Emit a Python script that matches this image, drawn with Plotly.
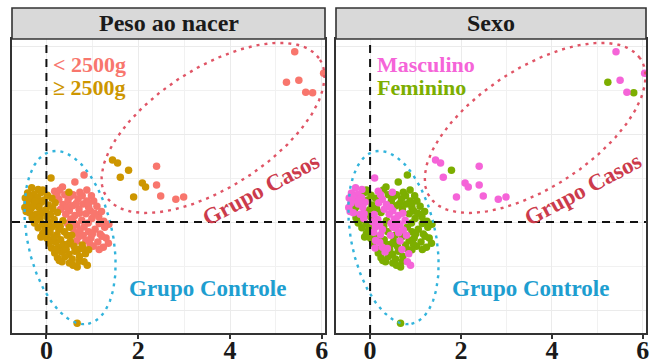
import numpy as np
import plotly.graph_objects as go

# ---------------- data ----------------
# < 2500g, Masculino
lbw_m_x = [0.18, 0.27, 0.36, 0.31, 0.50, 0.42, 0.62, 0.53, 0.77, 0.46, 0.66, 0.57, 0.63, 0.66,
           0.23, 0.45, 0.72, 0.60, 0.73, 0.80,
           2.40, 2.40, 2.49, 2.82, 2.99, 5.41, 5.50, 5.65, 6.04]
lbw_m_y = [0.70, 0.52, 0.40, 0.29, 0.26, 0.18, 0.15, 0.07, 0.04, -0.03, -0.06, -0.14, -0.24, -0.43,
           0.62, 0.33, 0.20, -0.01, -0.18, -0.30,
           1.27, 0.84, 0.59, 0.52, 0.57, 3.87, 3.22, 2.95, 3.38]
# < 2500g, Feminino
lbw_f_x = [0.35, 0.29, 0.40, 0.58, 0.98, 0.47, 0.69, 1.03, 0.57, 0.80, 1.10, 0.71, 0.96, 0.86, 1.14,
           0.99, 1.25, 0.91, 1.36, 0.82, 1.06, 1.27, 0.92, 1.17, 0.71, 0.97, 1.21, 0.86, 1.12, 1.35,
           1.02, 1.24, 0.52, 0.78, 0.88, 0.65, 0.92, 1.20, 1.05, 1.15, 1.00, 1.30, 0.95, 1.15,
           0.62, 0.82, 0.73, 0.88, 0.92, 5.23, 5.80]
lbw_f_y = [0.80, 0.73, 0.62, 0.62, 0.60, 0.49, 0.53, 0.48, 0.37, 0.41, 0.36, 0.30, 0.25, 0.19, 0.12,
           0.08, 0.02, -0.02, -0.05, -0.11, -0.16, -0.12, -0.22, -0.27, -0.33, -0.36, -0.32, -0.41, -0.45, -0.48,
           -0.55, -0.57, 0.58, 0.60, 0.48, 0.42, 0.33, 0.24, 0.20, -0.03, -0.27, -0.36, -0.50, -0.62,
           0.91, 1.07, 0.68, 0.73, 0.43, 3.18, 2.94]
# >= 2500g, Masculino
nbw_m_x = [-0.32, -0.18, -0.41, -0.27, -0.46, -0.33, -0.19, -0.42, -0.26, -0.11, 0.19, -0.47, -0.16,
           -0.37, -0.22, 0.09, -0.14, 0.17, 0.06, 0.21, 0.12, 0.27, 0.08, 0.23, 0.21, 0.11, 0.27, 0.33,
           0.89, 0.45, 0.50, -0.38, -0.24, -0.44, -0.13, 0.12, 0.38, 0.70, 0.85, 0.82,
           0.10, 0.49, 1.44, 1.55, 1.61, 2.09, 2.16, 1.90]
nbw_m_y = [0.78, 0.74, 0.66, 0.63, 0.55, 0.52, 0.56, 0.43, 0.41, 0.45, 0.44, 0.33, 0.33,
           0.21, 0.18, 0.17, 0.08, 0.06, 0.01, -0.06, -0.11, -0.17, -0.23, -0.29, -0.46, -0.59, -0.57, -0.68,
           -0.98, -0.30, -0.12, 0.58, 0.48, 0.24, 0.19, -0.42, -0.60, -0.62, -0.72, -0.90,
           1.00, 0.68, 1.41, 1.34, 1.02, 0.89, 0.80, 0.57]
# >= 2500g, Feminino
nbw_f_x = [-0.12, 0.02, -0.05, 0.12, 0.04, -0.34, -0.01, 0.14, -0.07, 0.24, -0.31, 0.01, -0.26, -0.09,
           0.36, -0.18, -0.03, -0.08, 0.39, 0.01, 0.16, 0.31, 0.06, 0.37, 0.52, 0.43, 0.18, 0.49, 0.62,
           0.24, 0.40, 0.56, 0.34, 0.50, 0.71, 0.67, 0.60, 0.72, 0.80, 0.78, 0.92,
           -0.29, -0.20, 0.03, -0.12, 0.30, 0.20, 0.28, 0.58, 0.47, 0.55,
           0.67, -0.08, 1.79]
nbw_f_y = [0.67, 0.61, 0.50, 0.54, 0.39, 0.30, 0.28, 0.31, 0.23, 0.22, 0.10, 0.12, -0.02, -0.04,
           0.03, -0.13, -0.16, -0.26, -0.22, -0.37, -0.34, -0.40, -0.48, -0.51, -0.44, -0.62, -0.70, -0.73, -0.66,
           -0.81, -0.79, -0.84, -0.90, -0.93, -0.89, -1.02, -0.55, -0.78, -0.60, -0.52, -0.63,
           0.36, 0.05, -0.06, -0.34, -0.10, -0.62, -0.87, -0.98, -0.50, -0.30,
           -2.30, 0.73, 1.18]

# confidence ellipses: centre x, centre y, semi-major, semi-minor, angle (deg)
casos_ellipse = [3.63, 2.14, 2.80, 1.34, 34.5]
controle_ellipse = [0.515, -0.35, 2.00, 0.93, -78.6]

x_ticks = [0, 2, 4, 6]
panel_titles = ["Peso ao nacer", "Sexo"]

# ---------------- styling ----------------
W, H = 651, 364
SALMON, GOLD = "#F8766D", "#CD9600"
PINK, GREEN = "#F564D8", "#7CAE00"
RED_E, RED_T = "#E05566", "#CC3B4C"
BLUE_E, BLUE_T = "#33B4DC", "#1E9ED0"
SERIF = "Liberation Serif"


def ellipse(p, n=240):
    cx, cy, a, b, ang = p
    t = np.linspace(0, 2 * np.pi, n)
    r = np.radians(ang)
    ex = cx + a * np.cos(t) * np.cos(r) - b * np.sin(t) * np.sin(r)
    ey = cy + a * np.cos(t) * np.sin(r) + b * np.sin(t) * np.cos(r)
    return ex, ey


fig = go.Figure()

panels = [
    ("x", "y", [(lbw_m_x + lbw_f_x, lbw_m_y + lbw_f_y, SALMON),
                (nbw_m_x + nbw_f_x, nbw_m_y + nbw_f_y, GOLD)]),
    ("x2", "y2", [(lbw_f_x + nbw_f_x, lbw_f_y + nbw_f_y, GREEN),
                  (lbw_m_x + nbw_m_x, lbw_m_y + nbw_m_y, PINK)]),
]

for xa, ya, groups in panels:
    for gx, gy, col in groups:
        fig.add_trace(go.Scatter(x=gx, y=gy, mode="markers", xaxis=xa, yaxis=ya,
                                 marker=dict(size=7.5, color=col, line=dict(width=0)),
                                 showlegend=False, hoverinfo="skip"))
    for p, col in [(casos_ellipse, RED_E), (controle_ellipse, BLUE_E)]:
        ex, ey = ellipse(p)
        fig.add_trace(go.Scatter(x=ex, y=ey, mode="lines", xaxis=xa, yaxis=ya,
                                 line=dict(color=col, width=2.4, dash="3px,5px"),
                                 showlegend=False, hoverinfo="skip"))

# geometry (pixels -> paper)
px_l = [(12, 325), (336, 646)]
top_px, bot_px = 39, 333
strip_top = 8
ydom = [(H - bot_px) / H, (H - top_px) / H]
XR = [-0.75, 6.07]
YR = [-2.52, 4.16]

axis_common = dict(range=XR, showgrid=True, gridcolor="#EBEBEB", gridwidth=1,
                   tickvals=x_ticks, ticktext=[str(v) for v in x_ticks],
                   ticks="outside", ticklen=4, tickwidth=1.5, tickcolor="#333333",
                   ticklabelstandoff=-11,
                   tickfont=dict(family=SERIF, size=26, color="#1a1a1a", weight="bold"),
                   showline=True, linecolor="#333333", linewidth=1.6, mirror=True,
                   zeroline=False, automargin=False,
                   minor=dict(dtick=1, tick0=0, showgrid=True, gridcolor="#F1F1F1", gridwidth=0.8, ticks=""))
yaxis_common = dict(range=YR, domain=ydom, showgrid=True, gridcolor="#EBEBEB", gridwidth=1,
                    tickvals=[-2, 0, 2, 4], showticklabels=False, ticks="",
                    showline=True, linecolor="#333333", linewidth=1.6, mirror=True,
                    zeroline=False, automargin=False,
                    minor=dict(dtick=1, tick0=0, showgrid=True, gridcolor="#F1F1F1", gridwidth=0.8, ticks=""))

fig.update_layout(
    width=W, height=H, margin=dict(l=0, r=0, t=0, b=0),
    paper_bgcolor="white", plot_bgcolor="white",
    xaxis=dict(domain=[px_l[0][0] / W, px_l[0][1] / W], anchor="y", **axis_common),
    xaxis2=dict(domain=[px_l[1][0] / W, px_l[1][1] / W], anchor="y2", **axis_common),
    yaxis=dict(anchor="x", **yaxis_common),
    yaxis2=dict(anchor="x2", **yaxis_common),
)

shapes = []
annotations = []
for i, (xa, ya) in enumerate([("x", "y"), ("x2", "y2")]):
    x0, x1 = px_l[i]
    # strip
    shapes.append(dict(type="rect", xref="paper", yref="paper",
                       x0=x0 / W, x1=x1 / W, y0=(H - top_px) / H, y1=(H - strip_top) / H,
                       fillcolor="#D9D9D9", line=dict(color="#333333", width=1.6), layer="above"))
    annotations.append(dict(xref="paper", yref="paper", x=(x0 + x1) / 2 / W,
                            y=(H - (strip_top + top_px) / 2) / H, text="<b>%s</b>" % panel_titles[i],
                            showarrow=False, xanchor="center", yanchor="middle",
                            font=dict(family=SERIF, size=24, color="#1a1a1a")))
    # reference dashed lines
    shapes.append(dict(type="line", xref=xa, yref=ya + " domain", x0=0, x1=0, y0=0, y1=1,
                       line=dict(color="#111111", width=2, dash="8px,6px"), layer="above"))
    shapes.append(dict(type="line", xref=xa + " domain", yref=ya, x0=0, x1=1, y0=0, y1=0,
                       line=dict(color="#111111", width=2, dash="8px,6px"), layer="above"))
    # group labels
    annotations.append(dict(xref=xa, yref=ya, x=4.68, y=0.73, text="<b>Grupo Casos</b>", textangle=-28,
                            showarrow=False, font=dict(family=SERIF, size=23, color=RED_T)))
    annotations.append(dict(xref=xa, yref=ya, x=3.52, y=-1.52, text="<b>Grupo Controle</b>",
                            showarrow=False, font=dict(family=SERIF, size=23, color=BLUE_T)))

legend_text = [("< 2500g", "≥ 2500g", SALMON, GOLD), ("Masculino", "Feminino", PINK, GREEN)]
for i, (xa, ya) in enumerate([("x", "y"), ("x2", "y2")]):
    t1, t2, c1, c2 = legend_text[i]
    annotations.append(dict(xref=xa, yref=ya, x=0.10, y=3.58, text="<b>%s</b>" % t1, showarrow=False,
                            xanchor="left", yanchor="middle", font=dict(family=SERIF, size=22, color=c1)))
    annotations.append(dict(xref=xa, yref=ya, x=0.10, y=3.06, text="<b>%s</b>" % t2, showarrow=False,
                            xanchor="left", yanchor="middle", font=dict(family=SERIF, size=22, color=c2)))

fig.update_layout(shapes=shapes, annotations=annotations)
fig.write_html("out.html")
